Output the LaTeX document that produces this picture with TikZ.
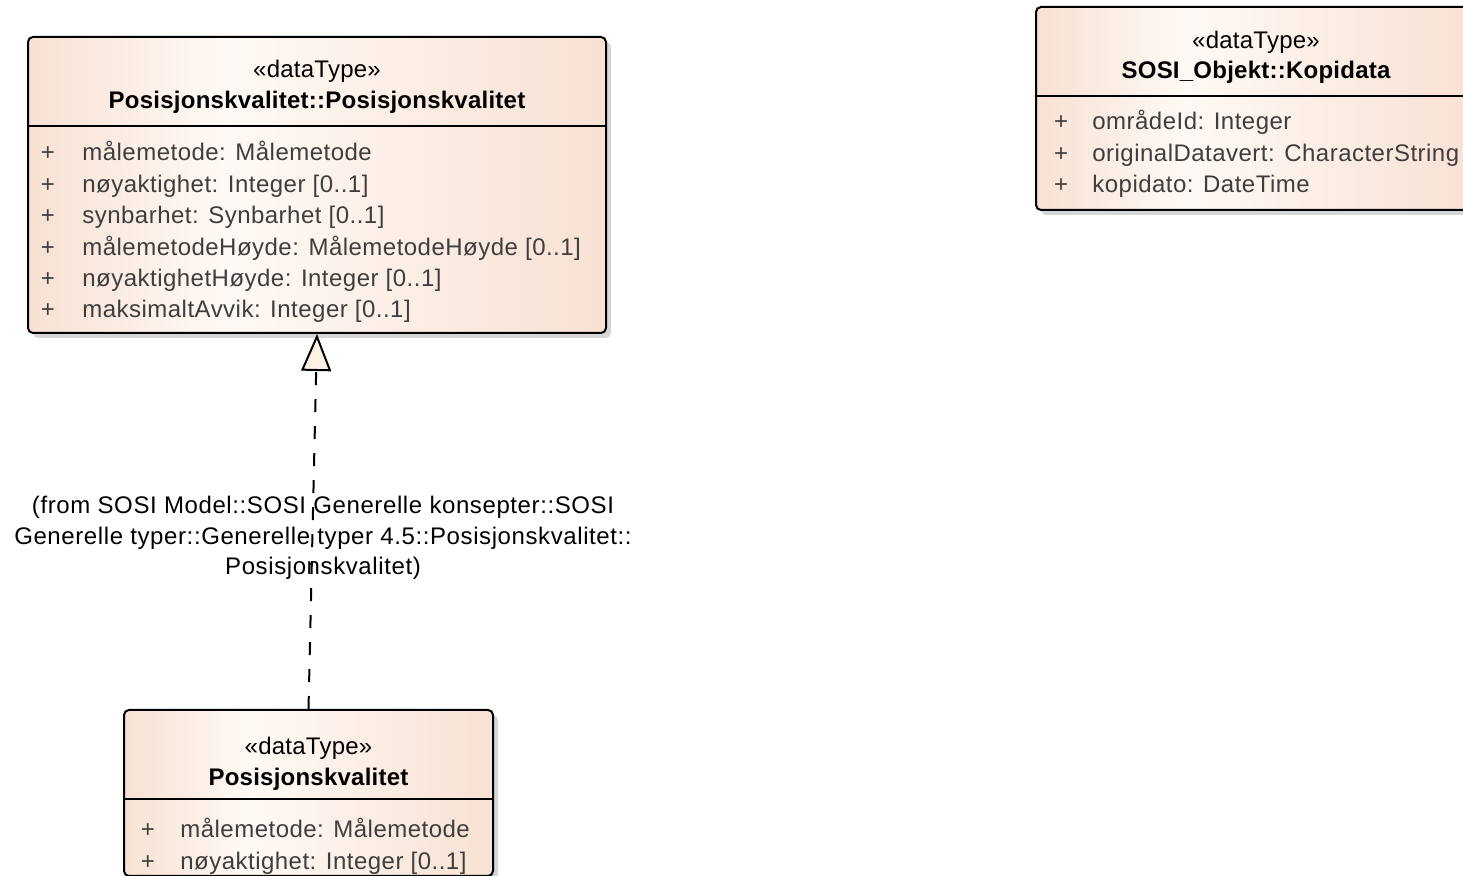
\documentclass[tikz,border=0pt]{standalone}
\usepackage{fontspec}
\setmainfont{Liberation Sans}
\newfontfamily\attrfamily[LetterSpace=2]{Liberation Sans}
\newfontfamily\namefamily[LetterSpace=1]{Liberation Sans}
\newfontfamily\notefamily[LetterSpace=2.5]{Liberation Sans}
\usepackage{tikz}
\usetikzlibrary{
  arrows.meta,
  shadows
}
\definecolor{ClassPeach}{RGB}{248,225,211}
\definecolor{ClassLight}{RGB}{254,249,245}
\definecolor{TextGray}{RGB}{62,62,62}
\definecolor{TipFill}{RGB}{252,241,226}
\definecolor{ShadowGray}{RGB}{214,214,214}
\pgfdeclarehorizontalshading{classfill}{100bp}{%
  color(0bp)=(ClassPeach); color(25bp)=(ClassPeach);
  color(42bp)=(ClassLight); color(75bp)=(ClassPeach);
  color(100bp)=(ClassPeach)}
\tikzset{
  % Class box with shading and shadow
  classbox/.style={
    draw=black,
    line width=1pt,
    rounded corners=2.5pt,
    shading=classfill,
    inner sep=0pt,
    drop shadow={shadow xshift=2.5pt, shadow yshift=-2.5pt,
      fill=ShadowGray, opacity=1}
  },
  % Line under the class name
  divider/.style={
    draw=black,
    line width=1pt
  },
  % Stereotype and name
  stereo/.style={
    font=\namefamily\fontsize{12}{14}\selectfont,
    anchor=base,
    inner sep=0pt
  },
  cname/.style={
    font=\namefamily\fontsize{12}{14}\selectfont\bfseries,
    anchor=base,
    inner sep=0pt
  },
  % Attribute rows
  vis/.style={
    font=\attrfamily\fontsize{12}{14}\selectfont,
    text=TextGray,
    anchor=base,
    inner sep=0pt
  },
  attr/.style={
    font=\attrfamily\fontsize{12}{14}\selectfont,
    text=TextGray,
    anchor=base west,
    inner sep=0pt
  },
  % Realization connector
  realize/.style={
    draw=black,
    line width=1pt,
    dash pattern=on 6.5pt off 7pt,
    -{Triangle[length=18.5pt, width=15pt, fill=TipFill]}
  },
  % Connector note
  fromnote/.style={
    font=\notefamily\fontsize{12}{15.25}\selectfont,
    align=center,
    inner sep=0pt
  }
}
\begin{document}
\begin{tikzpicture}[x=0.5pt, y=-0.5pt]
  \useasboundingbox (0,0) rectangle (1463,876);

  % Classes
  \node[classbox, minimum width=289pt, minimum height=148pt] (pkq) at (317,185) {};
  \node[classbox, minimum width=220pt, minimum height=101.5pt] (kopi) at (1256,108.5) {};
  \node[classbox, minimum width=184.5pt, minimum height=83pt] (posk) at (308.5,793) {};

  \draw[divider] (pkq.west |- 0,126.5) -- (pkq.east |- 0,126.5);
  \draw[divider] (kopi.west |- 0,96.5) -- (kopi.east |- 0,96.5);
  \draw[divider] (posk.west |- 0,799.5) -- (posk.east |- 0,799.5);

  % Posisjonskvalitet::Posisjonskvalitet
  \node[stereo] (pkqStereo) at (317,78) {«dataType»};
  \node[cname] (pkqName) at (317,109) {Posisjonskvalitet::Posisjonskvalitet};
  \foreach \txt [count=\i from 0] in {målemetode: Målemetode,
      nøyaktighet: Integer [0..1], synbarhet: Synbarhet [0..1],
      målemetodeHøyde: MålemetodeHøyde [0..1],
      nøyaktighetHøyde: Integer [0..1], maksimaltAvvik: Integer [0..1]} {
    \node[vis] (pkqVis\i) at (48,161+31.4*\i) {+};
    \node[attr] (pkqAttr\i) at (82,161+31.4*\i) {\txt};
  }

  % SOSI_Objekt::Kopidata
  \node[stereo] (kopiStereo) at (1256,49) {«dataType»};
  \node[cname] (kopiName) at (1256,79) {SOSI\_Objekt::Kopidata};
  \foreach \txt [count=\i from 0] in {områdeId: Integer,
      originalDatavert: CharacterString, kopidato: DateTime} {
    \node[vis] (kopiVis\i) at (1061,130+31.4*\i) {+};
    \node[attr] (kopiAttr\i) at (1092,130+31.4*\i) {\txt};
  }

  % Posisjonskvalitet
  \node[stereo] (poskStereo) at (308.5,755) {«dataType»};
  \node[cname] (poskName) at (308.5,786) {Posisjonskvalitet};
  \foreach \txt [count=\i from 0] in {målemetode: Målemetode,
      nøyaktighet: Integer [0..1]} {
    \node[vis] (poskVis\i) at (148,838+31.4*\i) {+};
    \node[attr] (poskAttr\i) at (180,838+31.4*\i) {\txt};
  }

  % Realization
  \draw[realize] (posk.north) -- (pkq.south);
  \node[fromnote] (poskFrom) at (323,538)
    {(from SOSI Model::SOSI Generelle konsepter::SOSI\\
     Generelle typer::Generelle typer 4.5::Posisjonskvalitet::\\
     Posisjonskvalitet)};
\end{tikzpicture}
\end{document}
